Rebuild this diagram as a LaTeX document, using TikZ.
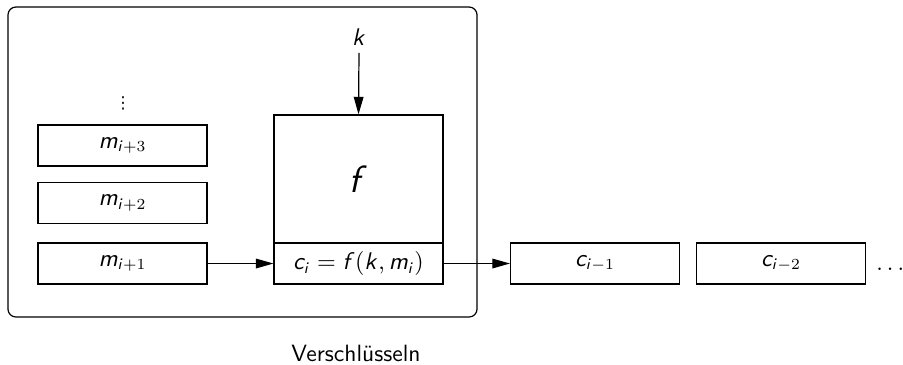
\documentclass[tikz,border=0pt]{standalone}
\usepackage{graphicx}
\usepackage{fontspec}
\newfontfamily\dejavu{DejaVu Sans}
\DeclareSymbolFont{operators}{OT1}{cmss}{m}{n}
\DeclareSymbolFont{letters}{OT1}{cmss}{m}{sl}
\mathcode`\,="602C
\mathcode`\.="002E
\mathchardef\ldotp="602E
\usetikzlibrary{arrows.meta}
\begin{document}
\begin{tikzpicture}[x=0.45455pt,y=-0.45455pt,font=\sffamily\fontsize{10.7}{13}\selectfont,
  blk/.style={draw, line width=0.55pt, minimum width=76.8pt, minimum height=18.6pt, inner sep=0pt},
  arr/.style={-{Triangle[length=8pt,width=4.4pt]}, line width=0.55pt}]
\useasboundingbox (0,0) rectangle (903,364);
\node[draw, line width=0.55pt, rounded corners=3.6pt, minimum width=213.2pt, minimum height=140.9pt, inner sep=0pt] (outer) at (242.5,162) {};
\node[inner sep=0pt] (dots) at (123,103) {\dejavu\fontsize{7.5}{8}\selectfont ⋮};
\node[blk] (m3) at (122.5,145.5) {$m_{i+3}$};
\node[blk] (m2) at (122.5,203) {$m_{i+2}$};
\node[blk] (m1) at (122.5,263.5) {$m_{i+1}$};
\node[blk, minimum height=58.2pt, font=\sffamily\fontsize{18.5}{22}\selectfont] (f) at (358.5,179) {$f$};
\node[blk] (ci) at (358.5,263.5) {$c_i = f(k, m_i)$};
\node[blk] (c1) at (595,263.5) {$c_{i-1}$};
\node[blk] (c2) at (781,263.5) {$c_{i-2}$};
\node[anchor=base west, inner sep=0pt] (ell) at (876,270.5) {$\dots$};
\node[anchor=base] (k) at (359,45) {$k$};
\node[anchor=base] (cap) at (356,361) {Verschlüsseln};
\draw[arr] (k.south) -- (f.north);
\draw[arr] (m1) -- (ci);
\draw[arr] (ci) -- (c1);
\end{tikzpicture}
\end{document}
